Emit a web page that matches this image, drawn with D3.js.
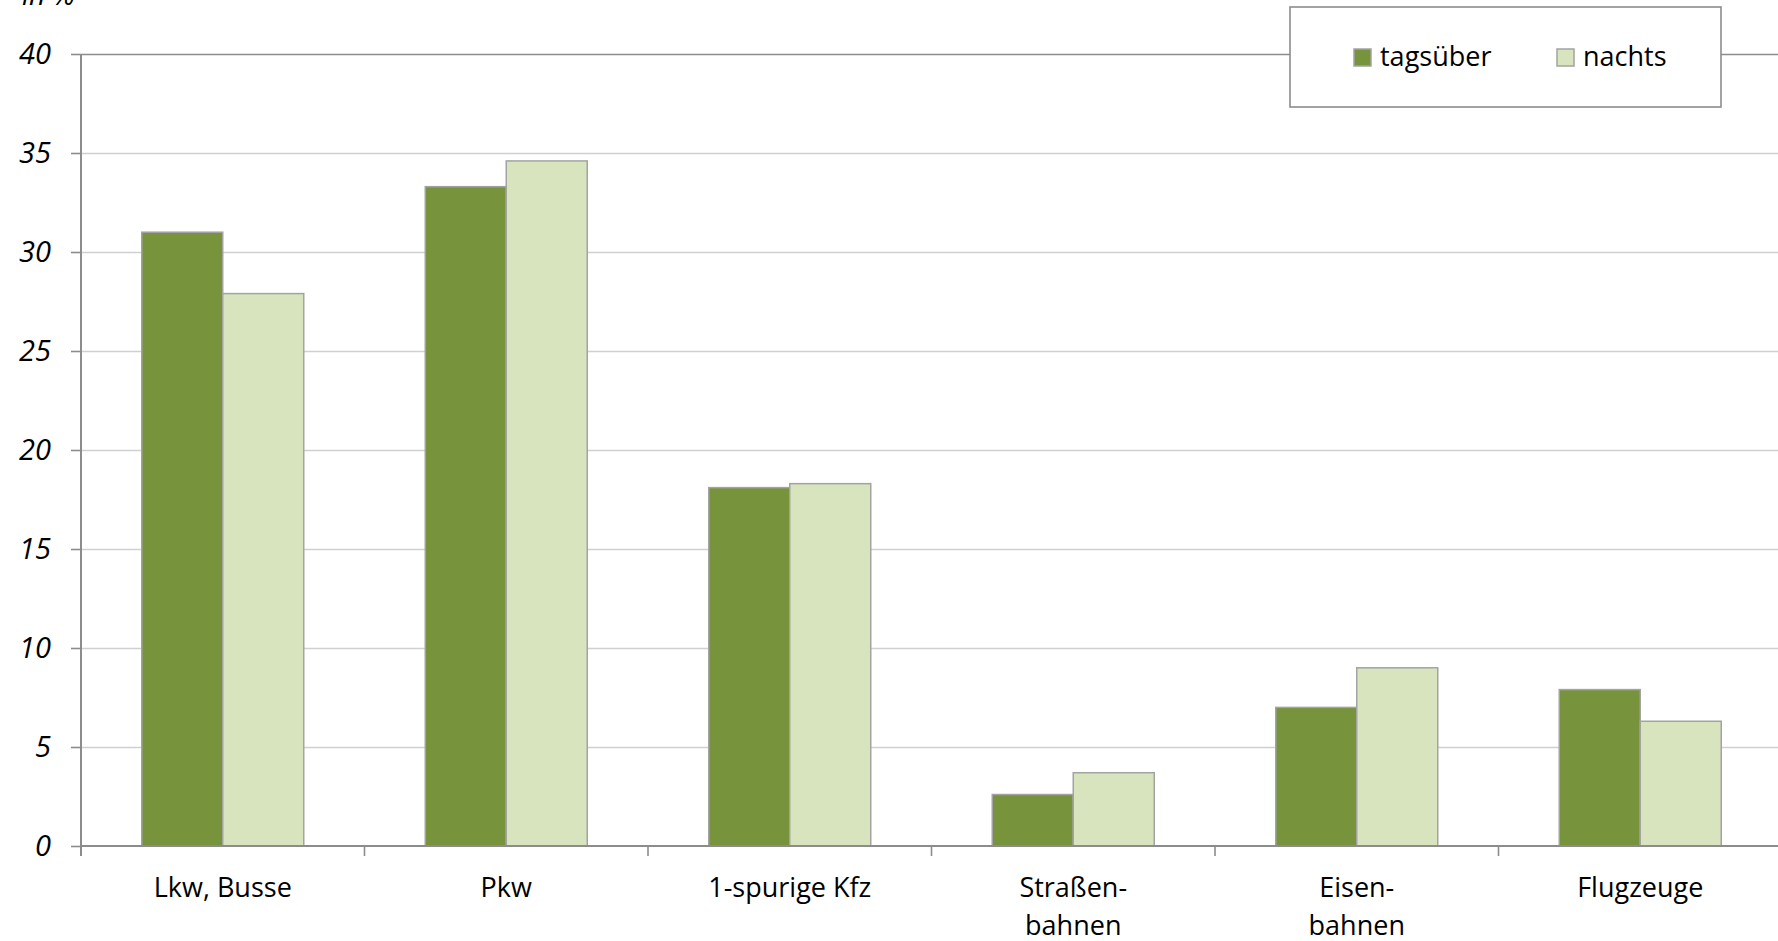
<!DOCTYPE html>
<html lang="de">
<head>
<meta charset="utf-8">
<script src="https://cdn.jsdelivr.net/npm/d3@7"></script>
<style>
  html, body { margin: 0; padding: 0; background: #fff; overflow: hidden; }
  svg { display: block; font-family: "Open Sans", "Noto Sans", sans-serif; }
</style>
</head>
<body>
<svg id="chart" width="1778" height="941"></svg>
<script>
// Categories of noise sources (line breaks as in the axis labels)
const categories = ["Lkw, Busse", "Pkw", "1-spurige Kfz", "Straßen-\nbahnen", "Eisen-\nbahnen", "Flugzeuge"];
const seriesNames = ["tagsüber", "nachts"];
// Share in % per source
const valuesTag = [31.0, 33.3, 18.1, 2.6, 7.0, 7.9];
const valuesNacht = [27.9, 34.6, 18.3, 3.7, 9.0, 6.3];
const yTicks = [0, 5, 10, 15, 20, 25, 30, 35, 40];
const yUnit = "in %";

const colors = { "tagsüber": "#77933c", "nachts": "#d7e4bd" };

const rows = categories.map((c, i) => ({ cat: c, "tagsüber": valuesTag[i], "nachts": valuesNacht[i] }));

const svg = d3.select("#chart");
const plotLeft = 81, plotTop = 54, plotBottom = 846;
const bandStep = 283.5;
const plotRight = plotLeft + bandStep * categories.length;

const x0 = d3.scaleBand().domain(categories).range([plotLeft, plotRight]).paddingInner(0).paddingOuter(0);
const x1 = d3.scaleBand().domain(seriesNames).range([0, x0.bandwidth()]).paddingInner(0).paddingOuter(0.75);
const y = d3.scaleLinear().domain([0, 40]).range([plotBottom, plotTop]);

// Horizontal gridlines
const grid = svg.append("g")
  .attr("transform", `translate(${plotLeft},0)`)
  .call(d3.axisLeft(y).tickValues(yTicks.filter(t => t > 0)).tickSize(-(1778 - plotLeft)).tickFormat(""));
grid.select(".domain").remove();
grid.selectAll(".tick line")
  .attr("stroke", d => d === 40 ? "#8c8c8c" : "#d0d0d0")
  .attr("stroke-width", d => d === 40 ? 1.6 : 1.4);

// Bars
const groups = svg.append("g").selectAll("g")
  .data(rows)
  .join("g")
  .attr("transform", d => `translate(${x0(d.cat)},0)`);

groups.selectAll("rect")
  .data(d => seriesNames.map(k => ({ key: k, value: d[k] })))
  .join("rect")
  .attr("x", d => x1(d.key))
  .attr("width", x1.bandwidth())
  .attr("y", d => y(d.value))
  .attr("height", d => y(0) - y(d.value))
  .attr("fill", d => colors[d.key])
  .attr("stroke", "#a3a3a3")
  .attr("stroke-width", 1.5);

// Y axis
const yAxis = svg.append("g")
  .attr("transform", `translate(${plotLeft},0)`)
  .call(d3.axisLeft(y).tickValues(yTicks).tickSize(10).tickPadding(20).tickFormat(d3.format("d")));
yAxis.select(".domain").remove();
yAxis.selectAll(".tick line").attr("stroke", "#8c8c8c").attr("stroke-width", 1.6);
yAxis.selectAll(".tick text")
  .attr("font-size", 29).attr("font-style", "italic").attr("fill", "#000")
  .attr("font-family", "'Open Sans', sans-serif");
svg.append("line")
  .attr("x1", plotLeft).attr("x2", plotLeft)
  .attr("y1", y(40)).attr("y2", plotBottom + 10)
  .attr("stroke", "#8c8c8c").attr("stroke-width", 2);

// X axis baseline and category boundary ticks
svg.append("line")
  .attr("x1", plotLeft).attr("x2", 1778)
  .attr("y1", plotBottom).attr("y2", plotBottom)
  .attr("stroke", "#8c8c8c").attr("stroke-width", 2.2);
svg.append("g").selectAll("line")
  .data(categories.slice(1))
  .join("line")
  .attr("x1", d => x0(d)).attr("x2", d => x0(d))
  .attr("y1", plotBottom).attr("y2", plotBottom + 10)
  .attr("stroke", "#8c8c8c").attr("stroke-width", 1.6);

// Category labels
const xAxis = svg.append("g")
  .attr("transform", `translate(0,${plotBottom})`)
  .call(d3.axisBottom(x0).tickSize(0).tickFormat(""));
xAxis.select(".domain").remove();
xAxis.selectAll(".tick").each(function(d) {
  const t = d3.select(this).append("text")
    .attr("text-anchor", "middle")
    .attr("font-size", 27)
    .attr("fill", "#000")
    .attr("font-family", "'Open Sans', sans-serif");
  d.split("\n").forEach((line, i) => {
    t.append("tspan").attr("x", 0).attr("y", 51 + i * 38).text(line);
  });
});

// Unit label
svg.append("text")
  .attr("x", 22).attr("y", 5)
  .attr("font-size", 28).attr("font-style", "italic")
  .text(yUnit);

// Legend
const legend = svg.append("g");
legend.append("rect")
  .attr("x", 1290).attr("y", 7).attr("width", 431).attr("height", 100)
  .attr("fill", "#fff").attr("stroke", "#8c8c8c").attr("stroke-width", 1.6);
const legendX = [1354, 1557];
seriesNames.forEach((k, i) => {
  legend.append("rect")
    .attr("x", legendX[i]).attr("y", 49).attr("width", 17).attr("height", 17)
    .attr("fill", colors[k]).attr("stroke", "#a3a3a3").attr("stroke-width", 1.5);
  legend.append("text")
    .attr("x", legendX[i] + 26).attr("y", 66)
    .attr("font-size", 27).attr("fill", "#000")
    .text(k);
});
</script>
</body>
</html>
